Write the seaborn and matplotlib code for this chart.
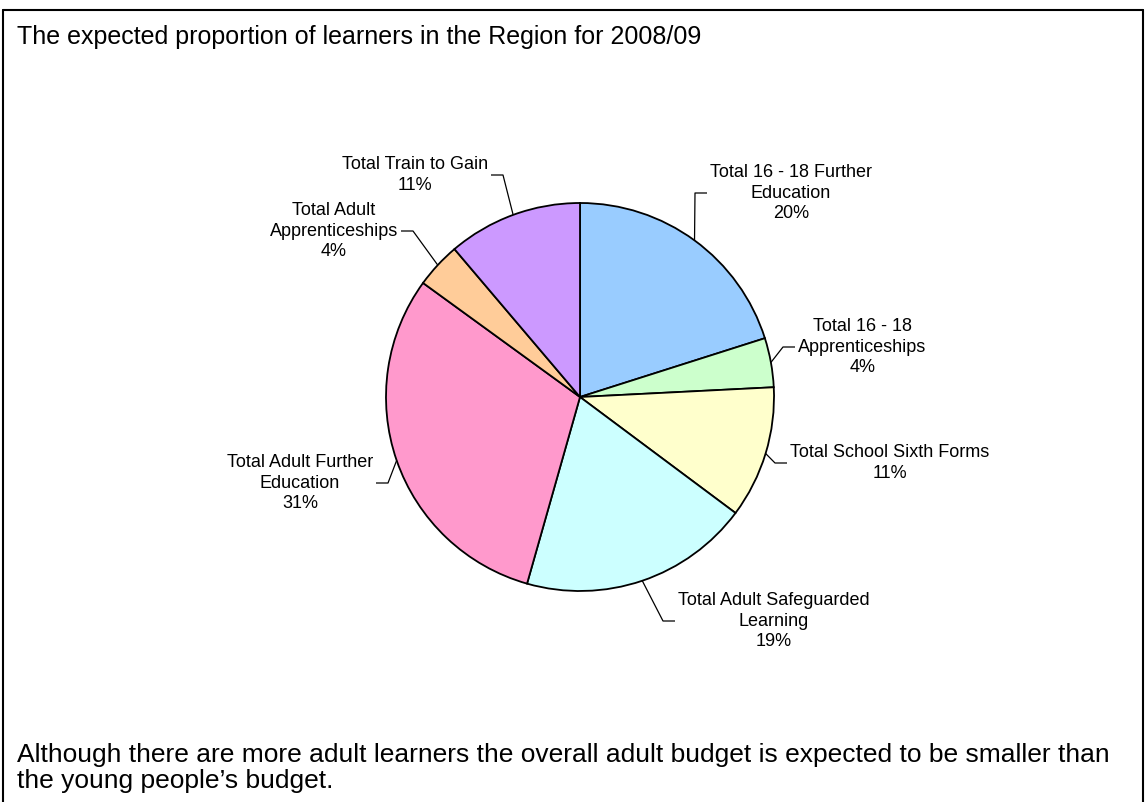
import matplotlib
matplotlib.use("Agg")
import matplotlib.pyplot as plt
import seaborn as sns
import numpy as np
from matplotlib.lines import Line2D

# ---- data ----
categories = [
    "Total 16 - 18 Further\nEducation",
    "Total 16 - 18\nApprenticeships",
    "Total School Sixth Forms",
    "Total Adult Safeguarded\nLearning",
    "Total Adult Further\nEducation",
    "Total Adult\nApprenticeships",
    "Total Train to Gain",
]
shares = [20.1, 4.1, 11.0, 19.2, 30.6, 3.8, 11.2]
colors = ["#99CCFF", "#CCFFCC", "#FFFFCC", "#CCFFFF", "#FF99CC", "#FFCC99", "#CC99FF"]
title = "The expected proportion of learners in the Region for 2008/09"
footnote = ("Although there are more adult learners the overall adult budget is expected to be smaller than\n"
            "the young people\u2019s budget.")

# ---- layout (pixel coordinates, y measured from top) ----
W, H = 1147, 802
pie_cx, pie_cy, pie_r = 580, 397, 194
# elbow point of each leader line and side where label sits
elbows = [(695, 193, "right"), (783, 347, "right"), (775, 463, "right"),
          (663, 621, "right"), (388, 483, "left"), (413, 231, "left"), (503, 175, "left")]

sns.set_theme(style="white")
plt.rcParams["font.family"] = ["Liberation Sans", "DejaVu Sans"]

fig = plt.figure(figsize=(W / 100, H / 100), dpi=100)
fig.patch.set_facecolor("white")
ax = fig.add_axes([0, 0, 1, 1])

palette = sns.color_palette(colors)
wedges, _ = ax.pie(shares, colors=palette, startangle=90, counterclock=False,
                   radius=pie_r, center=(pie_cx, H - pie_cy), frame=True,
                   wedgeprops=dict(edgecolor="black", linewidth=1.3))
ax.set_xlim(0, W)
ax.set_ylim(0, H)
ax.set_aspect("auto")
ax.axis("off")

total = sum(shares)
cum = 0.0
for val, name, (ex, ey, side) in zip(shares, categories, elbows):
    mid = (cum + val / 2) / total * 2 * np.pi
    cum += val
    px = pie_cx + pie_r * np.sin(mid)
    py = pie_cy - pie_r * np.cos(mid)
    dx = 12 if side == "right" else -12
    xs = [px, ex, ex + dx]
    ys = [H - py, H - ey, H - ey]
    ax.plot(xs, ys, color="black", lw=0.9, solid_capstyle="butt")
    pct = f"{val / total * 100:.0f}%"
    tx = ex + dx + (3 if side == "right" else -3)
    ax.text(tx, H - ey, f"{name}\n{pct}", ha="left" if side == "right" else "right",
            va="center", multialignment="center", fontsize=13, color="black",
            linespacing=1.25)

# title and footnote
fig.text(17 / W, 1 - 37 / H, title, fontsize=18, ha="left", va="center", color="black",
         fontstretch="condensed")
fig.text(17 / W, 1 - 768 / H, footnote, fontsize=19, ha="left", va="center", color="black",
         linespacing=1.15)

# outer frame (open at the bottom)
fx0, fy0, fx1 = 3 / W, 1 - 10 / H, 1143 / W
for xs, ys in [([fx0, fx1], [fy0, fy0]), ([fx0, fx0], [fy0, 0]), ([fx1, fx1], [fy0, 0])]:
    fig.add_artist(Line2D(xs, ys, color="black", lw=1.5))

fig.savefig("out.png", dpi=100, facecolor="white")
